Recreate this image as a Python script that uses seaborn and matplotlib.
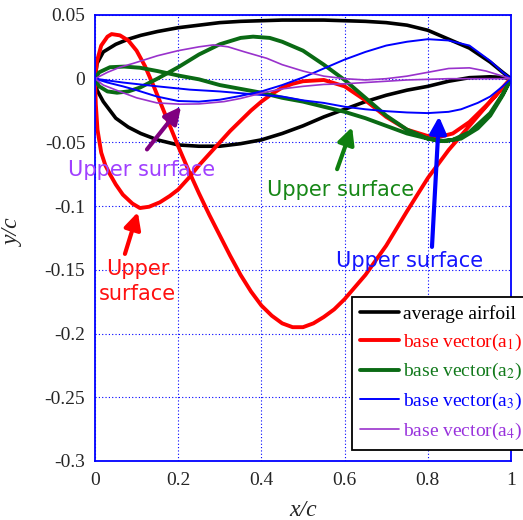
import numpy as np
import pandas as pd
import seaborn as sns
import matplotlib.pyplot as plt

# average airfoil
avg_up_x = [0, 0.005, 0.02, 0.05, 0.08, 0.11, 0.15, 0.2, 0.25, 0.3, 0.35, 0.4, 0.45, 0.5, 0.55, 0.6, 0.65, 0.7, 0.75, 0.8, 0.85, 0.9, 0.95, 0.98, 1.0]
avg_up_y = [0, 0.012, 0.021, 0.027, 0.031, 0.034, 0.037, 0.040, 0.042, 0.044, 0.045, 0.0455, 0.046, 0.046, 0.046, 0.0455, 0.045, 0.044, 0.042, 0.038, 0.031, 0.024, 0.013, 0.005, 0]
avg_lo_x = [0, 0.005, 0.02, 0.05, 0.08, 0.11, 0.15, 0.2, 0.25, 0.3, 0.35, 0.4, 0.45, 0.5, 0.55, 0.6, 0.65, 0.7, 0.75, 0.8, 0.85, 0.9, 0.95, 0.98, 1.0]
avg_lo_y = [0, -0.009, -0.018, -0.031, -0.038, -0.043, -0.048, -0.052, -0.053, -0.053, -0.051, -0.048, -0.043, -0.037, -0.030, -0.024, -0.018, -0.013, -0.009, -0.006, -0.002, 0.0008, 0.0015, 0.001, 0]

# base vector a1
a1_up_x = [0, 0.005, 0.015, 0.03, 0.04, 0.06, 0.08, 0.1, 0.12, 0.14, 0.16, 0.18, 0.2, 0.225, 0.25, 0.275, 0.3, 0.325, 0.35, 0.375, 0.4, 0.425, 0.45, 0.475, 0.5, 0.525, 0.55, 0.575, 0.6, 0.65, 0.7, 0.75, 0.8, 0.85, 0.9, 0.95, 0.98, 1.0]
a1_up_y = [0, 0.014, 0.026, 0.033, 0.035, 0.034, 0.030, 0.022, 0.010, -0.005, -0.021, -0.037, -0.053, -0.072, -0.090, -0.107, -0.123, -0.139, -0.154, -0.167, -0.178, -0.186, -0.192, -0.195, -0.195, -0.192, -0.187, -0.181, -0.173, -0.154, -0.131, -0.104, -0.078, -0.056, -0.037, -0.018, -0.007, 0]
a1_lo_x = [0, 0.002, 0.006, 0.015, 0.025, 0.036, 0.05, 0.067, 0.09, 0.108, 0.13, 0.156, 0.18, 0.2, 0.225, 0.25, 0.275, 0.3, 0.325, 0.35, 0.375, 0.4, 0.425, 0.45, 0.475, 0.5, 0.55, 0.6, 0.65, 0.7, 0.75, 0.8, 0.83, 0.86, 0.9, 0.95, 0.98, 1.0]
a1_lo_y = [0, -0.02, -0.04, -0.058, -0.068, -0.075, -0.083, -0.091, -0.098, -0.1015, -0.1005, -0.097, -0.092, -0.087, -0.078, -0.068, -0.059, -0.050, -0.041, -0.033, -0.025, -0.018, -0.012, -0.007, -0.004, -0.002, -0.001, -0.006, -0.017, -0.030, -0.040, -0.045, -0.0455, -0.043, -0.034, -0.018, -0.007, 0]

# base vector a2
a2_up_x = [0, 0.01, 0.036, 0.07, 0.108, 0.15, 0.2, 0.25, 0.3, 0.35, 0.4, 0.45, 0.5, 0.55, 0.6, 0.65, 0.7, 0.75, 0.8, 0.84, 0.88, 0.92, 0.95, 0.98, 1.0]
a2_up_y = [0, 0.005, 0.009, 0.0095, 0.0086, 0.006, 0.0025, -0.0005, -0.005, -0.008, -0.011, -0.015, -0.018, -0.022, -0.026, -0.031, -0.037, -0.043, -0.047, -0.049, -0.047, -0.039, -0.029, -0.013, 0]
a2_lo_x = [0, 0.01, 0.03, 0.053, 0.08, 0.108, 0.15, 0.2, 0.25, 0.3, 0.35, 0.38, 0.42, 0.45, 0.5, 0.55, 0.6, 0.65, 0.7, 0.75, 0.8, 0.83, 0.86, 0.9, 0.95, 0.98, 1.0]
a2_lo_y = [0, -0.006, -0.010, -0.011, -0.010, -0.007, 0, 0.009, 0.019, 0.027, 0.032, 0.033, 0.032, 0.029, 0.022, 0.011, -0.001, -0.015, -0.029, -0.040, -0.047, -0.049, -0.048, -0.042, -0.027, -0.012, 0]

# base vector a3
a3_up_x = [0, 0.03, 0.067, 0.1, 0.149, 0.2, 0.25, 0.3, 0.35, 0.4, 0.45, 0.5, 0.55, 0.6, 0.65, 0.7, 0.75, 0.8, 0.85, 0.9, 0.95, 0.98, 1.0]
a3_up_y = [0, -0.003, -0.006, -0.009, -0.014, -0.0175, -0.018, -0.0165, -0.0135, -0.010, -0.005, 0.001, 0.008, 0.015, 0.021, 0.026, 0.029, 0.031, 0.030, 0.026, 0.014, 0.005, 0]
a3_lo_x = [0, 0.067, 0.15, 0.228, 0.3, 0.39, 0.45, 0.5, 0.55, 0.6, 0.65, 0.7, 0.75, 0.8, 0.85, 0.88, 0.92, 0.95, 0.98, 1.0]
a3_lo_y = [0, -0.003, -0.006, -0.0086, -0.010, -0.0125, -0.014, -0.017, -0.019, -0.022, -0.024, -0.0255, -0.0265, -0.027, -0.026, -0.024, -0.019, -0.014, -0.006, 0]

# base vector a4
a4_up_x = [0, 0.03, 0.06, 0.092, 0.15, 0.2, 0.25, 0.284, 0.32, 0.36, 0.413, 0.45, 0.5, 0.55, 0.6, 0.65, 0.7, 0.75, 0.8, 0.85, 0.9, 0.94, 0.97, 1.0]
a4_up_y = [0, 0.005, 0.009, 0.012, 0.018, 0.022, 0.025, 0.0265, 0.025, 0.021, 0.016, 0.011, 0.006, 0.002, 0.0, -0.001, 0.0, 0.002, 0.005, 0.008, 0.0085, 0.006, 0.003, 0]
a4_lo_x = [0, 0.02, 0.067, 0.1, 0.149, 0.204, 0.25, 0.31, 0.35, 0.404, 0.45, 0.5, 0.55, 0.6, 0.65, 0.7, 0.75, 0.8, 0.85, 0.9, 0.95, 1.0]
a4_lo_y = [0, -0.005, -0.011, -0.015, -0.019, -0.020, -0.0198, -0.018, -0.0155, -0.011, -0.008, -0.006, -0.0045, -0.004, -0.003, -0.002, -0.001, -0.0005, 0.0, 0.0, 0.0, 0]

names = ['average airfoil', 'base vector(a$_1$)', 'base vector(a$_2$)', 'base vector(a$_3$)', 'base vector(a$_4$)']
colors = ['black', '#ff0000', '#0a6a14', '#0000ff', '#9932cc']
text_colors = ['black', '#ff0000', '#117a1a', '#0000ff', '#9932dd']
widths = [2.6, 2.8, 2.8, 1.4, 1.2]

x_ticks = [0, 0.2, 0.4, 0.6, 0.8, 1]
x_tick_labels = ['0', '0.2', '0.4', '0.6', '0.8', '1']
y_ticks = [-0.3, -0.25, -0.2, -0.15, -0.1, -0.05, 0, 0.05]
y_tick_labels = ['-0.3', '-0.25', '-0.2', '-0.15', '-0.1', '-0.05', '0', '0.05']


def loop(ux, uy, lx, ly, name):
    xs = list(ux) + list(lx[::-1])
    ys = list(uy) + list(ly[::-1])
    return pd.DataFrame({'x': xs, 'y': ys, 'curve': name})


sns.set_style('white')
plt.rcParams['font.family'] = ['Liberation Serif', 'DejaVu Serif']
plt.rcParams['mathtext.fontset'] = 'stix'
serif = ['Liberation Serif', 'DejaVu Serif']

curves = [
    loop(avg_up_x, avg_up_y, avg_lo_x, avg_lo_y, names[0]),
    loop(a1_up_x, a1_up_y, a1_lo_x, a1_lo_y, names[1]),
    loop(a2_up_x, a2_up_y, a2_lo_x, a2_lo_y, names[2]),
    loop(a3_up_x, a3_up_y, a3_lo_x, a3_lo_y, names[3]),
    loop(a4_up_x, a4_up_y, a4_lo_x, a4_lo_y, names[4]),
]

fig = plt.figure(figsize=(5.23, 5.20), dpi=100)
ax = fig.add_axes([0.1816, 0.1135, 0.7955, 0.8577])

for df, c, w in zip(curves, colors, widths):
    sns.lineplot(data=df, x='x', y='y', sort=False, estimator=None, color=c,
                 linewidth=w, label=df['curve'].iloc[0], ax=ax,
                 solid_joinstyle='round', solid_capstyle='round')

ax.set_xlim(0, 1)
ax.set_ylim(-0.3, 0.05)
ax.set_xticks(x_ticks)
ax.set_xticklabels(x_tick_labels, family=serif, fontsize=14)
ax.set_yticks(y_ticks)
ax.set_yticklabels(y_tick_labels, family=serif, fontsize=14)
ax.tick_params(axis='both', length=0)
ax.tick_params(axis='x', pad=8)
ax.tick_params(axis='y', pad=7)
ax.grid(True, color='#0000ff', linestyle=(0, (1, 2)), linewidth=0.8)
ax.set_axisbelow(True)
for s in ax.spines.values():
    s.set_color('#0000ff')
    s.set_linewidth(1.3)

ax.set_xlabel('x/c', fontsize=17, style='italic', family=serif)
ax.set_ylabel('y/c', fontsize=17, style='italic', family=serif)
ax.xaxis.set_label_coords(0.5, -0.088)
ax.yaxis.set_label_coords(-0.17, 0.513)

# arrows and notes
sans = ['DejaVu Sans']
ax.annotate('', xy=(0.207, -0.0219), xytext=(0.125, -0.0555),
            arrowprops=dict(arrowstyle='-|>,head_length=0.5,head_width=0.25', lw=3, color='#800080',
                            shrinkA=0, shrinkB=0, mutation_scale=20))
ax.text(0.113, -0.0719, 'Upper surface', color='#a040ff', fontsize=15, family=sans, ha='center', va='center')

ax.annotate('', xy=(0.618, -0.038), xytext=(0.582, -0.071),
            arrowprops=dict(arrowstyle='-|>,head_length=0.5,head_width=0.25', lw=3, color='#0f7f0f',
                            shrinkA=0, shrinkB=0, mutation_scale=20))
ax.text(0.591, -0.0875, 'Upper surface', color='#178717', fontsize=15, family=sans, ha='center', va='center')

ax.annotate('', xy=(0.827, -0.0297), xytext=(0.81, -0.132),
            arrowprops=dict(arrowstyle='-|>,head_length=0.5,head_width=0.25', lw=3, color='#0000ff',
                            shrinkA=0, shrinkB=0, mutation_scale=20))
ax.text(0.755, -0.143, 'Upper surface', color='#1515ff', fontsize=15, family=sans, ha='center', va='center')

ax.annotate('', xy=(0.103, -0.1047), xytext=(0.072, -0.1375),
            arrowprops=dict(arrowstyle='-|>,head_length=0.5,head_width=0.25', lw=3, color='#ff0000',
                            shrinkA=0, shrinkB=0, mutation_scale=20))
ax.text(0.103, -0.159, 'Upper\nsurface', color='#ff1010', fontsize=15, family=sans, ha='center', va='center',
        linespacing=1.3)

handles, labels = ax.get_legend_handles_labels()
leg = ax.legend(handles, labels, loc='upper left', bbox_to_anchor=(352 / 523, 1 - 297 / 520),
                bbox_transform=fig.transFigure, fontsize=14, frameon=True, fancybox=False,
                framealpha=1, edgecolor='black', handlelength=2.0, handletextpad=0.2,
                labelspacing=0.45, borderpad=0.4, borderaxespad=0)
leg.get_frame().set_linewidth(1.3)
for t, c in zip(leg.get_texts(), text_colors):
    t.set_color(c)

fig.savefig('out.png', dpi=100)
